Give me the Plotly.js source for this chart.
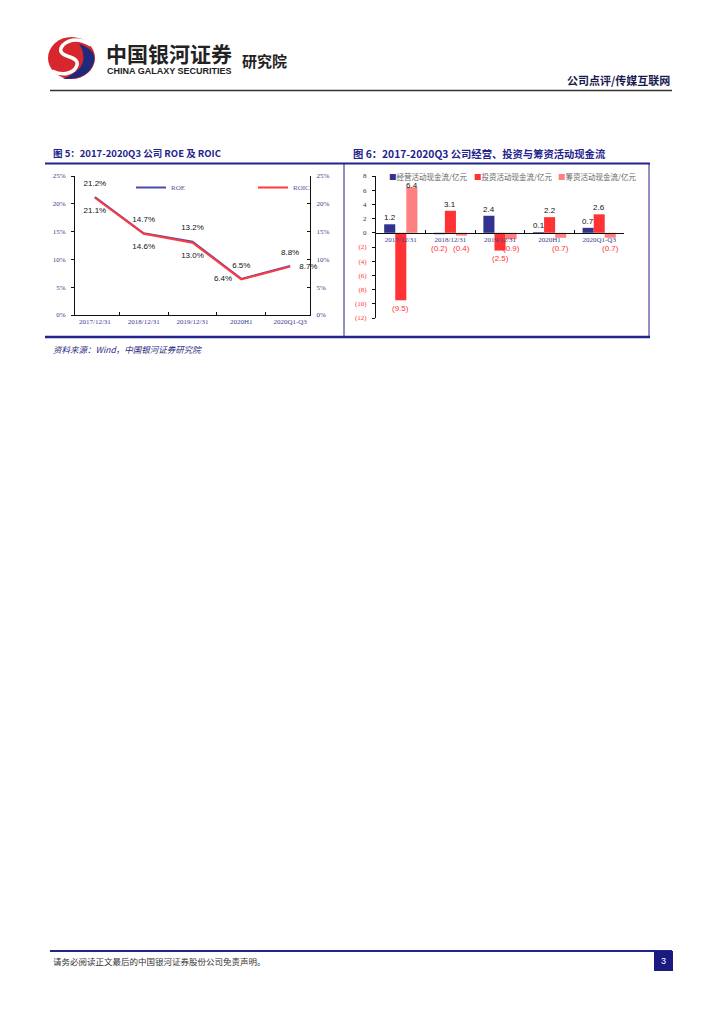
<!DOCTYPE html>
<html><head><meta charset="utf-8">
<script src="https://cdn.plot.ly/plotly-3.0.1.min.js"></script>
<style>html,body{margin:0;padding:0;background:#fff}#page{width:724px;height:1024px}</style>
</head><body><div id="page"></div>
<script>
// ---------- data ----------
const categories = ['2017/12/31', '2018/12/31', '2019/12/31', '2020H1', '2020Q1-Q3'];
const roe  = [21.2, 14.7, 13.2, 6.5, 8.8];
const roic = [21.1, 14.6, 13.0, 6.4, 8.7];
const pctTicks = [0, 5, 10, 15, 20, 25];
const pctTickText = ['0%', '5%', '10%', '15%', '20%', '25%'];

const opCash  = [1.2, -0.2, 2.4, 0.1, 0.7];
const invCash = [-9.5, 3.1, -2.5, 2.2, 2.6];
const finCash = [6.4, -0.4, -0.9, -0.7, -0.7];
const cashNames = ['经营活动现金流/亿元', '投资活动现金流/亿元', '筹资活动现金流/亿元'];
const cashTicks = [8, 6, 4, 2, 0, -2, -4, -6, -8, -10, -12];

// ---------- helpers ----------
const W = 724, H = 1024;
const P = x => x / W;
const Q = y => 1 - y / H;
const NAVY = '#23238C';
const RED = '#FF3333', PINK = '#FF8080', BLUEBAR = '#33338F';
const fmtCash = v => v < 0 ? '(' + Math.abs(v).toFixed(1) + ')' : v.toFixed(1);
function pp(str) { // pixel path -> paper path
  return str.replace(/(-?\d+(\.\d+)?) (-?\d+(\.\d+)?)/g, (m, a, b, c) => P(+a).toFixed(5) + ' ' + Q(+c).toFixed(5));
}

const fontNum = 'Liberation Sans, Arial, sans-serif';
const fontSerif = 'Liberation Serif, serif';
const fontCJK = 'Noto Sans CJK SC, sans-serif';

// ---------- traces ----------
const traces = [
  { x: categories, y: roe, name: 'ROE', type: 'scatter', mode: 'lines', xaxis: 'x', yaxis: 'y',
    line: { color: '#4A4AB0', width: 2 }, cliponaxis: false },
  { x: categories, y: roic, name: 'ROIC', type: 'scatter', mode: 'lines', xaxis: 'x', yaxis: 'y',
    line: { color: '#FF3B3B', width: 2 }, cliponaxis: false },
  { x: categories, y: roe, type: 'scatter', mode: 'markers+text', xaxis: 'x', yaxis: 'y', showlegend: false,
    marker: { size: 13, opacity: 0 }, text: roe.map(v => v.toFixed(1) + '%'),
    textposition: ['top center', 'top center', 'top center', 'top center', 'top center'],
    textfont: { size: 8, color: '#111', family: fontNum }, cliponaxis: false },
  { x: categories, y: roic, type: 'scatter', mode: 'markers+text', xaxis: 'x', yaxis: 'y', showlegend: false,
    marker: { size: 13, opacity: 0 }, text: roic.map(v => v.toFixed(1) + '%'),
    textposition: ['bottom center', 'bottom center', 'bottom center', 'middle left', 'middle right'],
    textfont: { size: 8, color: '#111', family: fontNum }, cliponaxis: false },
  { x: categories, y: roe, type: 'scatter', mode: 'none', xaxis: 'x', yaxis: 'y2', showlegend: false, hoverinfo: 'skip' }
];
const cashSeries = [opCash, invCash, finCash];
const cashColors = [BLUEBAR, RED, PINK];
cashSeries.forEach((s, i) => {
  traces.push({ x: categories, y: s, name: cashNames[i], type: 'bar', xaxis: 'x3', yaxis: 'y3',
    marker: { color: cashColors[i] }, showlegend: false });
});

// ---------- layout ----------
const d5 = [Q(315), Q(176)];
const d6 = [Q(318), Q(176)];
const r6 = [-12, 8];
const zeroPos = d6[0] + (0 - r6[0]) / (r6[1] - r6[0]) * (d6[1] - d6[0]);
const BARGAP = 0.33;

const tickFont = { size: 7, color: '#3A3A90', family: fontSerif };

const layout = {
  width: W, height: H, margin: { l: 0, r: 0, t: 0, b: 0 },
  paper_bgcolor: '#fff', plot_bgcolor: 'rgba(0,0,0,0)',
  showlegend: true,
  legend: { orientation: 'h', x: P(131), y: Q(173), xanchor: 'left', yanchor: 'top',
    font: { size: 7, color: '#5555A0', family: fontSerif }, bgcolor: 'rgba(0,0,0,0)',
    entrywidth: 77, entrywidthmode: 'pixels', itemwidth: 30 },
  xaxis: { domain: [P(75), P(310)], anchor: 'y', type: 'category', showline: true, linecolor: '#111', linewidth: 1,
    ticks: 'inside', tickson: 'boundaries', ticklen: 3, tickcolor: '#111', showgrid: false, zeroline: false,
    tickfont: tickFont },
  yaxis: { domain: d5, anchor: 'x', range: [0, 25], tickvals: pctTicks, ticktext: pctTickText, showline: true,
    linecolor: '#111', linewidth: 1, ticks: 'outside', ticklen: 3, tickcolor: '#111', showgrid: false,
    zeroline: false, tickfont: tickFont, ticklabelstandoff: 4 },
  yaxis2: { domain: d5, anchor: 'x', overlaying: 'y', side: 'right', range: [0, 25], tickvals: pctTicks,
    ticktext: pctTickText, showline: true, linecolor: '#111', linewidth: 1, ticks: 'inside', ticklen: 3,
    tickcolor: '#111', showgrid: false, zeroline: false, tickfont: tickFont, ticklabelstandoff: 4 },
  xaxis3: { domain: [P(376), P(624)], anchor: 'free', position: zeroPos, type: 'category', showline: true,
    linecolor: '#111', linewidth: 1, ticks: 'inside', tickson: 'boundaries', ticklen: 3, tickcolor: '#111',
    showgrid: false, zeroline: false, tickfont: { size: 7, color: '#3A3A90', family: fontSerif },
    layer: 'above traces', ticklabelstandoff: 0 },
  yaxis3: { domain: d6, anchor: 'x3', range: r6, tickvals: cashTicks,
    ticktext: cashTicks.map(v => v < 0 ? '<span style="color:' + RED + '">(' + Math.abs(v) + ')</span>' : String(v)),
    showline: true, linecolor: '#111', linewidth: 1, ticks: 'outside', ticklen: 3, tickcolor: '#111',
    showgrid: false, zeroline: false, tickfont: { size: 7, color: '#333', family: fontSerif },
    ticklabelstandoff: 4 },
  barmode: 'group', bargap: BARGAP, bargroupgap: 0,
  shapes: [], annotations: []
};

const S = layout.shapes, A = layout.annotations;
const line = (x0, y0, x1, y1, color, width) => S.push({ type: 'line', xref: 'paper', yref: 'paper',
  x0: P(x0), y0: Q(y0), x1: P(x1), y1: Q(y1), line: { color, width } });

// bar value labels (placed relative to each bar through the data axes)
const barW = (1 - BARGAP) / cashSeries.length;
cashSeries.forEach((s, i) => {
  s.forEach((v, j) => {
    const xc = j + (i - (cashSeries.length - 1) / 2) * barW;
    if (v >= 0) {
      A.push({ xref: 'x3', yref: 'y3', x: xc, y: Math.min(v + 0.95, 6.7), yanchor: 'middle', showarrow: false,
        text: fmtCash(v), font: { size: 8, color: '#111', family: fontNum } });
    } else {
      A.push({ xref: 'x3', yref: 'y3', x: xc, y: Math.min(v - 1.1, -2.2), yanchor: 'middle', showarrow: false,
        text: fmtCash(v), font: { size: 8, color: RED, family: fontNum } });
    }
  });
});

// header logo
S.push({ type: 'circle', xref: 'paper', yref: 'paper', x0: P(48), x1: P(95), y0: Q(79), y1: Q(37),
  fillcolor: '#D7262E', line: { width: 0 } });
S.push({ type: 'path', xref: 'paper', yref: 'paper', fillcolor: '#1F2B7A', line: { width: 0 },
  path: pp('M 79 44 Q 97 50 94 62 Q 89 80 63 79 Q 80 72 83 62 Q 85 52 79 44 Z') });
S.push({ type: 'path', xref: 'paper', yref: 'paper', line: { color: '#fff', width: 3.5 },
  path: pp('M 91 45 Q 74 35 63 45 Q 56 53 70 57 Q 82 61 74 70 Q 65 77 52 71') });
A.push({ x: P(104), y: Q(53), xref: 'paper', yref: 'paper', xanchor: 'left', yanchor: 'middle', showarrow: false,
  text: '<b>中国银河证券</b>', font: { size: 21, color: '#222', family: fontCJK } });
A.push({ x: P(105), y: Q(71), xref: 'paper', yref: 'paper', xanchor: 'left', yanchor: 'middle', showarrow: false,
  text: '<b>CHINA GALAXY SECURITIES</b>', font: { size: 9, color: '#222', family: fontNum } });
A.push({ x: P(240), y: Q(60), xref: 'paper', yref: 'paper', xanchor: 'left', yanchor: 'middle', showarrow: false,
  text: '<b>研究院</b>', font: { size: 15, color: '#222', family: fontCJK } });
A.push({ x: P(672), y: Q(80), xref: 'paper', yref: 'paper', xanchor: 'right', yanchor: 'middle', showarrow: false,
  text: '<b>公司点评/传媒互联网</b>', font: { size: 11, color: '#1A1A50', family: fontCJK } });
line(50, 90.5, 672, 90.5, '#333', 1.5);

// figure titles and frame
A.push({ x: P(51), y: Q(153), xref: 'paper', yref: 'paper', xanchor: 'left', yanchor: 'middle', showarrow: false,
  text: '<b>图 5：2017-2020Q3 公司 ROE 及 ROIC</b>', font: { size: 9.5, color: NAVY, family: fontCJK } });
A.push({ x: P(351), y: Q(153), xref: 'paper', yref: 'paper', xanchor: 'left', yanchor: 'middle', showarrow: false,
  text: '<b>图 6：2017-2020Q3 公司经营、投资与筹资活动现金流</b>', font: { size: 10.3, color: NAVY, family: fontCJK } });
line(45, 163.5, 650, 163.5, NAVY, 2);
line(45, 337, 650, 337, NAVY, 2.5);
line(344, 163.5, 344, 337, NAVY, 1);
line(649, 163.5, 649, 337, NAVY, 1);

// legend for chart 6 (built from series names)
const legX = [387, 472, 556];
cashNames.forEach((n, i) => A.push({ x: P(legX[i]), y: Q(176), xref: 'paper', yref: 'paper', xanchor: 'left',
  yanchor: 'middle', showarrow: false, font: { size: 7.5, color: '#666', family: fontCJK },
  text: '<span style="color:' + cashColors[i] + '">■</span>' + n }));

// source
A.push({ x: P(51), y: Q(349), xref: 'paper', yref: 'paper', xanchor: 'left', yanchor: 'middle', showarrow: false,
  text: '<i>资料来源：Wind，中国银河证券研究院</i>', font: { size: 8.5, color: '#2A2A80', family: fontCJK } });

// footer
line(50, 951, 672, 951, NAVY, 2);
A.push({ x: P(51), y: Q(961), xref: 'paper', yref: 'paper', xanchor: 'left', yanchor: 'middle', showarrow: false,
  text: '请务必阅读正文最后的中国银河证券股份公司免责声明。', font: { size: 8.5, color: '#333', family: fontCJK } });
S.push({ type: 'rect', xref: 'paper', yref: 'paper', x0: P(654), x1: P(673), y0: Q(971), y1: Q(951),
  fillcolor: '#1A1A80', line: { width: 0 } });
A.push({ x: P(663.5), y: Q(961), xref: 'paper', yref: 'paper', xanchor: 'center', yanchor: 'middle', showarrow: false,
  text: '3', font: { size: 9, color: '#fff', family: fontNum } });

Plotly.newPlot('page', traces, layout, { staticPlot: true, displayModeBar: false });
</script></body></html>
